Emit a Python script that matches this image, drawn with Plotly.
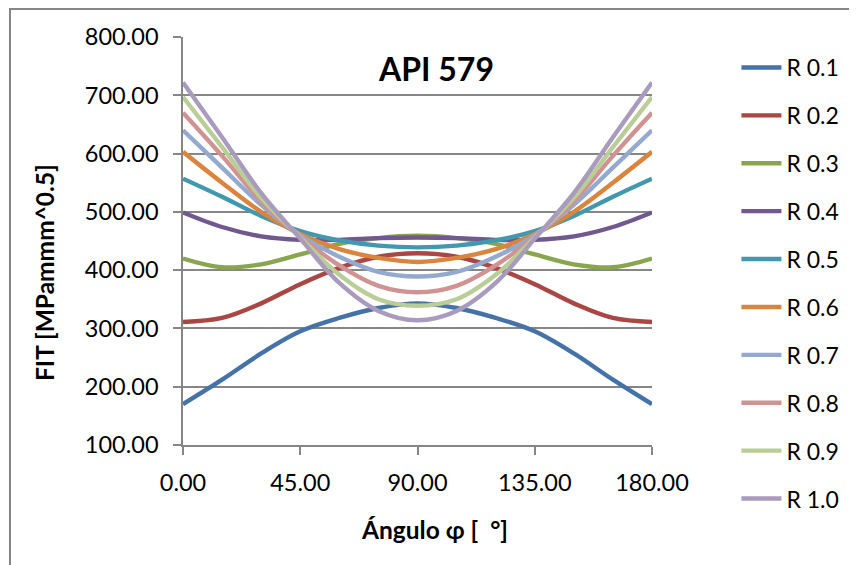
import plotly.graph_objects as go

angles = [0, 15, 30, 45, 60, 75, 90, 105, 120, 135, 150, 165, 180]
x_ticks = [0, 45, 90, 135, 180]

r01 = [170, 212, 257, 295, 318, 335, 343, 335, 318, 295, 257, 212, 170]
r02 = [311, 318, 343, 376, 404, 423, 429, 423, 404, 376, 343, 318, 311]
r03 = [420, 405, 410, 427, 445, 455, 459, 455, 445, 427, 410, 405, 420]
r04 = [499, 474, 458, 452, 452, 455, 456, 455, 452, 452, 458, 474, 499]
r05 = [557, 526, 493, 467, 451, 442, 439, 442, 451, 467, 493, 526, 557]
r06 = [603, 550, 500, 462, 436, 421, 414, 421, 436, 462, 500, 550, 603]
r07 = [640, 576, 512, 460, 423, 397, 389, 397, 423, 460, 512, 576, 640]
r08 = [670, 596, 518, 458, 408, 373, 362, 373, 408, 458, 518, 596, 670]
r09 = [697, 611, 524, 456, 392, 350, 339, 350, 392, 456, 524, 611, 697]
r10 = [722, 628, 532, 454, 378, 330, 314, 330, 378, 454, 532, 628, 722]

series_names = ["R 0.1", "R 0.2", "R 0.3", "R 0.4", "R 0.5",
                "R 0.6", "R 0.7", "R 0.8", "R 0.9", "R 1.0"]
series_values = [r01, r02, r03, r04, r05, r06, r07, r08, r09, r10]
colors = ["#4572A7", "#AA4643", "#89A54E", "#71588F", "#4198AF",
          "#DB843D", "#93A9CF", "#D19392", "#B9CD96", "#A99BBD"]

FONT = "Lato"
GRID = "#868686"

fig = go.Figure()
for i, (name, vals, col) in enumerate(zip(series_names, series_values, colors)):
    fig.add_trace(go.Scatter(
        x=angles, y=vals, name=name, mode="lines",
        line=dict(color=col, width=4.4, shape="spline", smoothing=1.0),
        legendgroup=f"g{i}",
    ))

# page body has an 8px margin: margins are reduced by 8 on left/top to compensate
fig.update_layout(
    width=857, height=565,
    margin=dict(l=175, r=213, t=29, b=128),
    paper_bgcolor="white", plot_bgcolor="white",
    font=dict(family=FONT, size=22, color="black"),
    showlegend=True,
    legend=dict(
        x=1.18, xanchor="left", y=0.978, yanchor="top",
        font=dict(family=FONT, size=23, color="black"),
        tracegroupgap=15, bgcolor="rgba(0,0,0,0)",
        itemwidth=40, maxheight=560,
    ),
    xaxis=dict(
        range=[0, 180], tickvals=x_ticks, tickformat=".2f",
        showgrid=False, zeroline=False,
        showline=True, linecolor=GRID, linewidth=1.5,
        ticks="outside", ticklen=8, tickcolor=GRID, tickwidth=1.5,
        ticklabelstandoff=8,
        tickfont=dict(family=FONT, size=23.5),
    ),
    yaxis=dict(
        range=[100, 800], dtick=100, tick0=100, tickformat=".2f",
        showgrid=True, gridcolor=GRID, gridwidth=1.5, zeroline=False,
        showline=True, linecolor=GRID, linewidth=1.5,
        ticks="outside", ticklen=8, tickcolor=GRID, tickwidth=1.5,
        ticklabelstandoff=10,
        tickfont=dict(family=FONT, size=23.5),
    ),
)

# chart area border
fig.add_shape(type="rect", xref="paper", yref="paper",
              x0=-0.3689, x1=1.47, y0=-0.34, y1=1.0686,
              line=dict(color=GRID, width=2), layer="below")

fig.add_annotation(text="<b>API 579</b>", xref="paper", yref="paper",
                   x=0.5405, y=0.924, xanchor="center", yanchor="middle",
                   showarrow=False,
                   font=dict(family=FONT, size=32, color="black"))
fig.add_annotation(text="<b>FIT [MPammm^0.5]</b>", xref="paper", yref="paper",
                   x=-0.2964, y=0.424, xanchor="center", yanchor="middle",
                   showarrow=False, textangle=-90,
                   font=dict(family=FONT, size=24.5, color="black"))
fig.add_annotation(text="<b>Ángulo φ [\u00a0\u00a0°]</b>", xref="paper", yref="paper",
                   x=0.537, y=-0.2083, xanchor="center", yanchor="middle",
                   showarrow=False,
                   font=dict(family=FONT, size=24.5, color="black"))

fig.write_html("out.html")
